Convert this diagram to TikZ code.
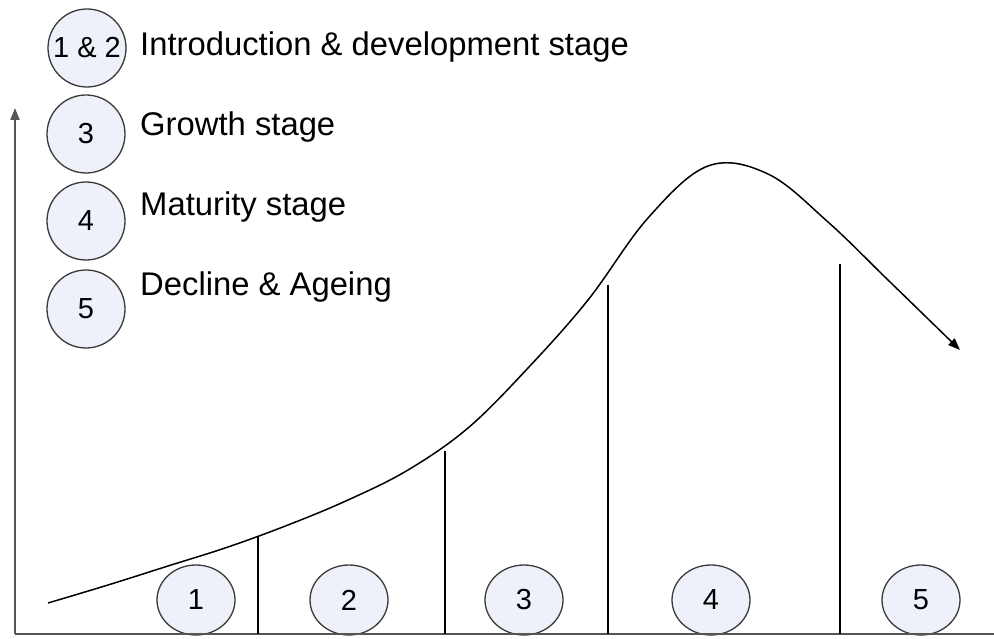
\documentclass[tikz,border=0pt]{standalone}
\usepackage{fontspec}
\setmainfont{Liberation Sans}
\usetikzlibrary{arrows.meta,shapes.geometric}
\definecolor{stagefill}{HTML}{EEF0FA}
\definecolor{edgegray}{HTML}{3A3A3A}
\definecolor{axisgray}{HTML}{555555}
\tikzset{
  stagecircle/.style={circle, draw=edgegray, line width=1.3pt, fill=stagefill, minimum size=78pt, inner sep=0pt, font=\fontsize{29}{32}\selectfont},
  bottomcircle/.style={ellipse, draw=edgegray, line width=1.3pt, fill=stagefill, minimum width=78pt, minimum height=70pt, inner sep=0pt, font=\fontsize{29}{32}\selectfont},
  legendtext/.style={anchor=west, inner sep=0pt, font=\fontsize{32.8}{38}\selectfont},
  axisline/.style={draw=axisgray, line width=2.2pt},
  divider/.style={draw=black, line width=1.3pt},
  curveline/.style={draw=black, line width=1.5pt}
}
\begin{document}
\begin{tikzpicture}[x=1pt,y=-1pt]
\useasboundingbox (0,0) rectangle (994,639);
% legend
\node[stagecircle] (L12) at (87,48) {1 \& 2};
\node[stagecircle] (L3) at (86,134) {3};
\node[stagecircle] (L4) at (86,221) {4};
\node[stagecircle] (L5) at (86,309) {5};
\node[legendtext] (T12) at (140,47) {Introduction \& development stage};
\node[legendtext] (T3) at (140,127) {Growth stage};
\node[legendtext] (T4) at (140,207) {Maturity stage};
\node[legendtext] (T5) at (140,287) {Decline \& Ageing};
% bottom circles
\node[bottomcircle] (S1) at (196,600) {1};
\node[bottomcircle] (S2) at (349,600) {2};
\node[bottomcircle] (S3) at (524,600) {3};
\node[bottomcircle] (S4) at (711,600) {4};
\node[bottomcircle] (S5) at (921,600) {5};
% axes
\coordinate (O) at (15,634);
\coordinate (Ytop) at (15,108);
\coordinate (Xend) at (994,634);
\draw[axisline, -{Triangle[length=12pt,width=9pt]}] (O) -- (Ytop);
\draw[axisline] (O) -- (Xend);
% dividers
\coordinate (D1t) at (258,537); \coordinate (D1b) at (258,634);
\coordinate (D2t) at (445,451); \coordinate (D2b) at (445,634);
\coordinate (D3t) at (608,285); \coordinate (D3b) at (608,634);
\coordinate (D4t) at (840,264); \coordinate (D4b) at (840,634);
\draw[divider] (D1t) -- (D1b);
\draw[divider] (D2t) -- (D2b);
\draw[divider] (D3t) -- (D3b);
\draw[divider] (D4t) -- (D4b);
% curve
\draw[curveline, -{Triangle[length=12pt,width=9pt]}] plot[smooth, tension=0.6] coordinates {
 (48,603) (108,585) (168,566) (228,547) (288,525) (348,500) (408,470) (468,428) (528,368) (588,300) (648,218) (708,166) (768,174) (828,222) (888,280) (960,350)};
\end{tikzpicture}
\end{document}
